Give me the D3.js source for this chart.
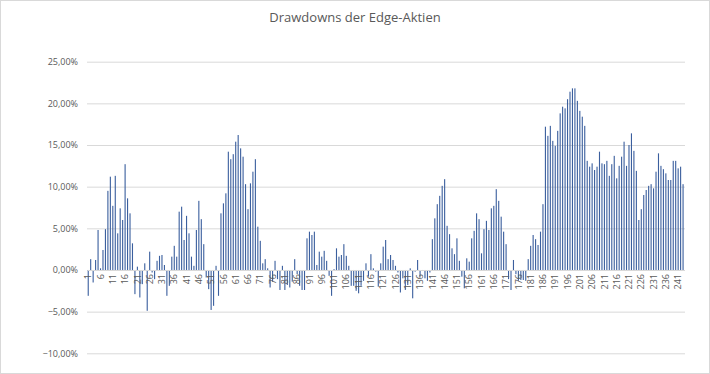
<!DOCTYPE html>
<html><head><meta charset="utf-8">
<script src="https://cdn.jsdelivr.net/npm/d3@7"></script>
<style>body{margin:0;background:#fff}svg{display:block}</style>
</head><body><svg id="c" width="710" height="374"></svg>
<script>
const title = "Drawdowns der Edge-Aktien";
const categories = d3.range(1, 244);
const values = [
-3.1,1.3,-1.5,1.2,4.8,0.2,2.4,4.9,9.5,11.2,
7.7,11.3,4.4,7.4,6.0,12.7,8.6,6.8,3.2,-2.9,
0.4,-3.3,-1.7,0.8,-4.9,2.2,-0.3,-1.1,1.1,1.7,
1.8,0.6,-3.1,-1.9,1.6,2.9,1.6,7.0,7.6,3.6,
6.5,4.4,1.6,0.5,4.8,8.3,6.1,3.1,-0.9,-2.3,
-4.8,-4.3,0.5,-3.1,6.8,8.0,9.2,14.2,13.3,13.9,
15.4,16.2,14.6,13.6,10.3,7.3,10.4,11.8,13.3,5.2,
3.5,0.8,1.3,0.2,-2.1,-1.4,1.1,-1.1,-2.4,0.5,
-2.4,-1.8,-2.1,-1.4,1.3,-0.5,-1.9,-2.4,-2.4,3.8,
4.6,4.2,4.6,0.6,2.2,1.6,2.3,1.1,-0.7,-3.1,
0.1,2.6,1.6,1.8,3.1,1.7,0.5,-1.9,-1.9,-2.5,
-2.8,-1.9,-1.3,0.8,-0.8,1.9,0.2,-0.2,-2.0,0.8,
2.8,3.6,1.3,1.8,1.2,0.5,-0.3,-2.7,-1.0,-2.4,
-1.8,0.2,-3.4,-0.2,1.2,-0.8,-0.1,-1.0,-1.3,-0.3,
3.7,6.2,7.9,8.9,10.1,10.9,5.3,4.3,2.6,1.9,
3.8,1.1,-0.8,-2.2,1.4,1.0,3.8,4.7,6.8,6.1,
2.0,4.9,5.9,4.8,7.4,7.7,9.7,8.3,6.4,4.6,
3.1,-1.1,-2.4,1.2,-0.5,-1.3,-1.2,-1.2,-1.3,1.3,
2.9,4.2,3.7,3.0,4.6,7.9,17.2,16.1,17.3,15.5,
14.9,16.7,18.8,19.6,19.4,20.5,21.4,21.8,21.8,20.3,
19.1,18.4,17.3,13.1,12.4,12.8,12.0,12.4,14.2,12.8,
12.7,13.1,11.3,12.7,13.7,11.0,12.5,13.6,15.4,12.5,
15.0,16.4,14.3,11.9,6.0,7.3,9.0,9.6,10.1,10.3,
9.8,11.8,14.0,12.5,12.1,11.6,10.8,10.8,13.1,13.1,
12.2,12.4,10.3
].map(v => v / 100);
const yTicks = [-0.10, -0.05, 0, 0.05, 0.10, 0.15, 0.20, 0.25];
const xTickLabels = categories.filter(c => (c - 1) % 5 === 0);

const svg = d3.select("#c");
const mLeft = 87, mRight = 685, mTop = 61.7, mBottom = 353.3;

svg.append("rect").attr("x", 0.5).attr("y", 0.5).attr("width", 709).attr("height", 373)
  .attr("fill", "#fff").attr("stroke", "#d9d9d9");

svg.append("text").attr("x", 355).attr("y", 22).attr("text-anchor", "middle")
  .attr("font-family", "Open Sans, Liberation Sans, sans-serif").attr("font-size", 13)
  .attr("fill", "#595959").text(title);

const x = d3.scaleBand().domain(categories).range([mLeft, mLeft + 243 * 2.458]).paddingInner(0.55).paddingOuter(0.275);
const y = d3.scaleLinear().domain([-0.10, 0.25]).range([mBottom, mTop]);

const fmt = v => d3.format(".2f")(v * 100).replace(".", ",") + "%";

const ya = svg.append("g").attr("transform", `translate(${mLeft},0)`)
  .call(d3.axisLeft(y).tickValues(yTicks).tickSize(-(mRight - mLeft)).tickFormat(fmt).tickPadding(9));
ya.select(".domain").remove();
ya.selectAll("line").attr("stroke", "#d9d9d9");
ya.selectAll("text").attr("fill", "#595959").attr("font-size", 9)
  .attr("font-family", "Open Sans, Liberation Sans, sans-serif");

svg.append("g").selectAll("rect").data(categories).join("rect")
  .attr("x", c => x(c)).attr("width", x.bandwidth())
  .attr("y", (c, i) => y(Math.max(0, values[i])))
  .attr("height", (c, i) => Math.abs(y(values[i]) - y(0)))
  .attr("fill", "#3b5f9e");

const xa = svg.append("g").attr("transform", `translate(0,${y(0)})`)
  .call(d3.axisBottom(x).tickValues(xTickLabels).tickSize(0).tickPadding(0));
xa.select(".domain").attr("stroke", "#d9d9d9");
xa.selectAll("text").attr("fill", "#595959").attr("font-size", 9)
  .attr("font-family", "Open Sans, Liberation Sans, sans-serif")
  .attr("transform", "rotate(-90)").attr("text-anchor", "end")
  .attr("x", -4).attr("y", 0).attr("dy", "0.35em");
</script></body></html>
